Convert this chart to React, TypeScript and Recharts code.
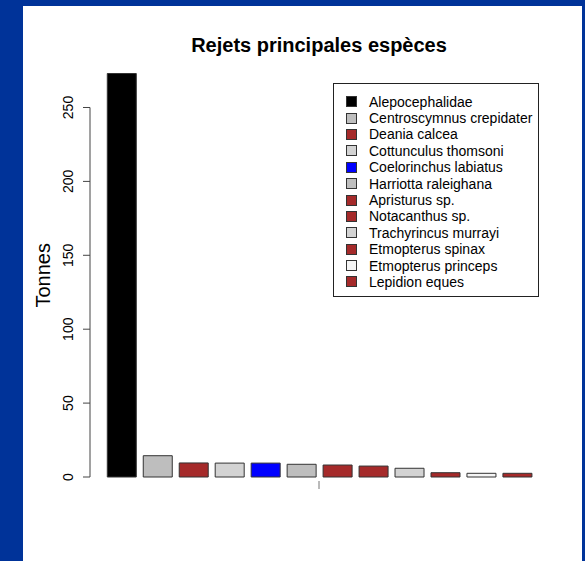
import React from 'react';
import { BarChart, Bar, XAxis, YAxis, Cell, Legend, ReferenceLine } from 'recharts';

const species = [
  'Alepocephalidae',
  'Centroscymnus crepidater',
  'Deania calcea',
  'Cottunculus thomsoni',
  'Coelorinchus labiatus',
  'Harriotta raleighana',
  'Apristurus sp.',
  'Notacanthus sp.',
  'Trachyrincus murrayi',
  'Etmopterus spinax',
  'Etmopterus princeps',
  'Lepidion eques',
];
const tonnes = [273, 14.4, 9.5, 9.4, 9.4, 8.6, 8.1, 7.4, 5.9, 2.9, 2.5, 2.5];
const colors = [
  '#000000', '#BEBEBE', '#A52A2A', '#D3D3D3', '#0000FF', '#BEBEBE',
  '#A52A2A', '#A52A2A', '#D3D3D3', '#A52A2A', '#F5F5F5', '#A52A2A',
];
const yTicks = [0, 50, 100, 150, 200, 250];
const title = 'Rejets principales espèces';
const yLabel = 'Tonnes';

const data = species.map((name, i) => ({ name, value: tonnes[i] }));

const FONT = '"Liberation Sans", Arial, Helvetica, sans-serif';

const YTick = (p: any) => {
  const x = p.x - 8;
  return (
    <text
      x={x}
      y={p.y}
      transform={`rotate(-90 ${x} ${p.y})`}
      textAnchor="middle"
      fontSize={14}
      fontFamily={FONT}
      fill="#000"
    >
      {p.payload.value}
    </text>
  );
};

const YLabel = (p: any) => {
  const vb = p.viewBox;
  const x = vb.x + 50;
  const y = vb.y + vb.height / 2;
  return (
    <text
      x={x}
      y={y}
      transform={`rotate(-90 ${x} ${y})`}
      textAnchor="middle"
      fontSize={20}
      fontFamily={FONT}
      fill="#000"
    >
      {yLabel}
    </text>
  );
};

const XMark = (p: any) => {
  const vb = p.viewBox;
  const cx = vb.x + vb.width / 2;
  return <line x1={cx} x2={cx} y1={vb.y + 4} y2={vb.y + 12} stroke="#777" strokeWidth={1} />;
};

const LegendBox = () => (
  <div
    style={{
      width: 204,
      height: 212,
      border: '1px solid #222',
      background: '#fff',
      boxSizing: 'content-box',
      paddingTop: 0,
      fontFamily: FONT,
      fontSize: 14,
      color: '#000',
      position: 'relative',
    }}
  >
    <div style={{ position: 'absolute', left: 12, top: 9.5 }}>
      {species.map((s, i) => (
        <div key={s} style={{ height: 16.4, display: 'flex', alignItems: 'center', whiteSpace: 'nowrap' }}>
          <span
            style={{
              display: 'inline-block',
              width: 9,
              height: 9,
              background: colors[i],
              border: '1px solid #333',
              marginRight: 12,
              flex: 'none',
            }}
          />
          <span style={{ lineHeight: '16px' }}>{s}</span>
        </div>
      ))}
    </div>
  </div>
);

export default function App() {
  return (
    <div
      style={{
        position: 'absolute',
        left: 0,
        top: 0,
        width: 585,
        height: 561,
        background: '#003399',
        overflow: 'hidden',
      }}
    >
      <div
        style={{
          position: 'absolute',
          left: 23,
          top: 6,
          width: 559,
          height: 555,
          background: '#fff',
        }}
      />
      <div
        style={{
          position: 'absolute',
          left: 90,
          width: 458,
          top: 35,
          lineHeight: '20px',
          fontSize: 20,
          fontWeight: 'bold',
          fontFamily: FONT,
          textAlign: 'center',
          color: '#000',
        }}
      >
        {title}
      </div>
      <div style={{ position: 'absolute', left: 0, top: 0 }}>
        <BarChart
          width={585}
          height={561}
          data={data}
          margin={{ top: 73.5, right: 37, bottom: 54, left: 0 }}
        >
          <XAxis
            dataKey="name"
            type="category"
            height={30}
            axisLine={false}
            tickLine={false}
            tick={false}
            padding={{ left: 13.7, right: 12.7 }}
            label={<XMark />}
          />
          <XAxis xAxisId="frame" type="number" domain={[0, 1]} hide />
          <YAxis
            width={90}
            domain={[0, 'dataMax']}
            ticks={yTicks}
            interval={0}
            axisLine={false}
            tickLine={{ stroke: '#444', strokeWidth: 1 }}
            tickSize={7}
            tick={<YTick />}
            label={<YLabel />}
          />
          <ReferenceLine
            xAxisId="frame"
            segment={[{ x: 0, y: 0 }, { x: 0, y: 250 }]}
            stroke="#444"
            strokeWidth={1}
          />
          <Bar dataKey="value" barCategoryGap={3} stroke="#333" strokeWidth={1} isAnimationActive={false}>
            {data.map((d, i) => (
              <Cell key={d.name} fill={colors[i]} />
            ))}
          </Bar>
          <Legend
            layout="vertical"
            align="center"
            verticalAlign="middle"
            wrapperStyle={{ left: 333, top: 83, width: 206 }}
            content={<LegendBox />}
          />
        </BarChart>
      </div>
    </div>
  );
}
